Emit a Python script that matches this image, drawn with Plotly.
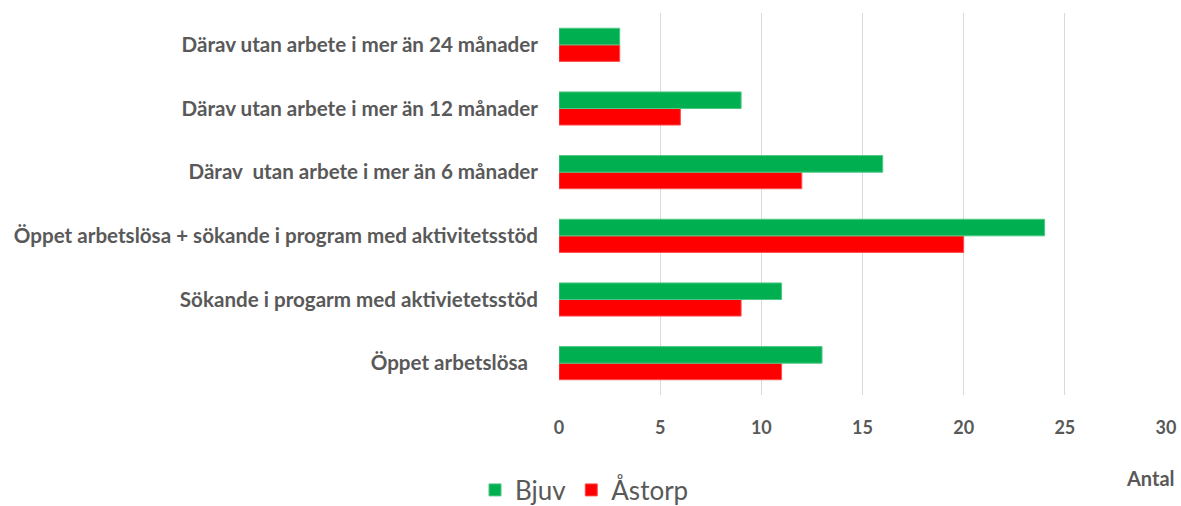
import plotly.graph_objects as go

categories = [
    "Öppet arbetslösa\u00a0\u00a0",
    "Sökande i progarm med aktivietetsstöd",
    "Öppet arbetslösa + sökande i program med aktivitetsstöd",
    "Därav  utan arbete i mer än 6 månader",
    "Därav utan arbete i mer än 12 månader",
    "Därav utan arbete i mer än 24 månader",
]
bjuv = [13, 11, 24, 16, 9, 3]
astorp = [11, 9, 20, 12, 6, 3]
x_ticks = [0, 5, 10, 15, 20, 25, 30]

GREEN = "#00B050"
RED = "#FF0000"
TXT = "#595959"
FONT = "Lato"

W, H = 1181, 506

fig = go.Figure()
fig.add_trace(go.Bar(y=categories, x=astorp, name="Åstorp", orientation="h",
                     marker=dict(color=RED, line=dict(color="#FF4D4D", width=1))))
fig.add_trace(go.Bar(y=categories, x=bjuv, name="Bjuv", orientation="h",
                     marker=dict(color=GREEN, line=dict(color="#4DC784", width=1))))

fig.update_layout(
    width=W, height=H,
    paper_bgcolor="white", plot_bgcolor="white",
    barmode="group", bargap=0.48, bargroupgap=0,
    margin=dict(l=559, r=15, t=13, b=111, autoexpand=False),
    font=dict(family=FONT, color=TXT),
    showlegend=True,
    legend=dict(orientation="h", traceorder="reversed",
                xref="container", yref="container",
                x=475 / W, y=1 - 490 / H, xanchor="left", yanchor="middle",
                font=dict(size=26, family=FONT, color=TXT),
                itemwidth=30),
    annotations=[dict(text="Antal", xref="paper", yref="paper",
                      x=(1177 - 559) / 607, y=(395 - 478) / 382,
                      xanchor="right", yanchor="middle", showarrow=False,
                      font=dict(size=20, family=FONT, color=TXT, weight="bold"))],
)
fig.update_xaxes(range=[0, 30], tickvals=x_ticks, showgrid=True, gridcolor="#D9D9D9",
                 gridwidth=1, zeroline=False, showline=False, ticks="",
                 ticklabelstandoff=20,
                 tickfont=dict(size=18, family=FONT, color=TXT, weight="bold"))
fig.update_yaxes(showgrid=False, showline=False, ticks="", ticklabelstandoff=20,
                 tickfont=dict(size=20.6, family=FONT, color=TXT, weight="bold"))

fig.write_html(
    "out.html",
    config={"displayModeBar": False},
    post_script="document.body.style.margin='0px';document.body.style.overflow='hidden';",
)
